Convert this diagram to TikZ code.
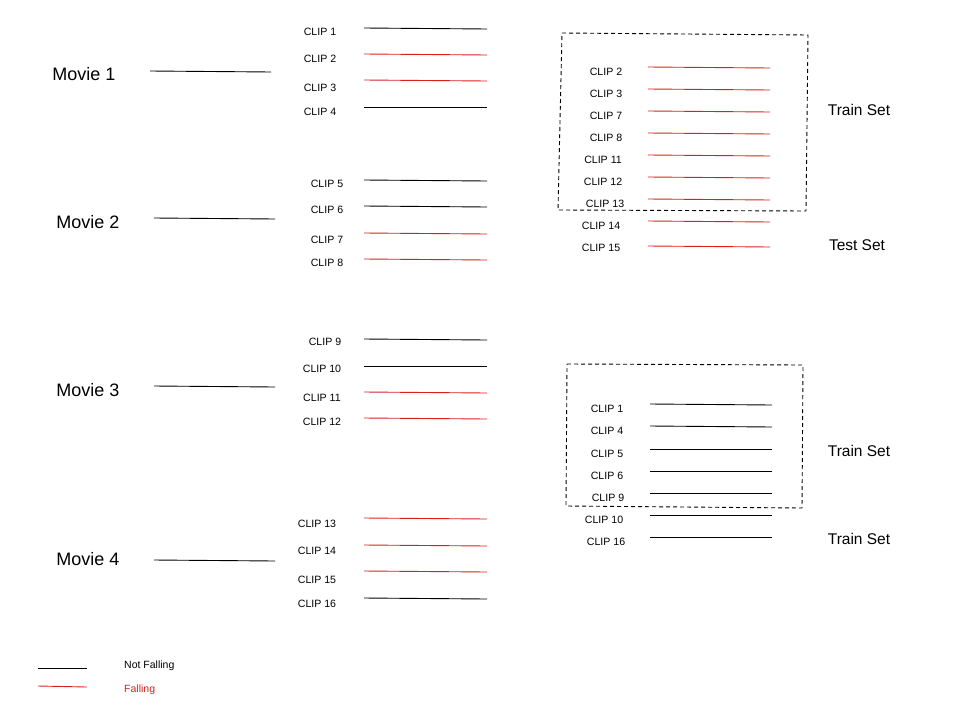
\documentclass[tikz,border=0pt]{standalone}
\usepackage{fontspec}
\setmainfont{Liberation Sans}
\definecolor{fallred}{RGB}{220,30,30}
\begin{document}
\begin{tikzpicture}[x=1pt,y=-1pt,
 cliptext/.style={font=\fontsize{10.6}{12}\selectfont, inner sep=0pt},
 movietext/.style={font=\fontsize{18}{20}\selectfont, inner sep=0pt},
 settext/.style={font=\fontsize{15.5}{18}\selectfont, inner sep=0pt},
 legtext/.style={font=\fontsize{10.5}{12}\selectfont, inner sep=0pt, anchor=west},
 nf/.style={draw=black, line width=0.9pt},
 fl/.style={draw=fallred, line width=0.9pt},
 splitbox/.style={draw=black, line width=0.9pt, dash pattern=on 4pt off 3pt}]
\useasboundingbox (0,0) rectangle (960,720);

% movies
\foreach \n/\tx/\ty/\ya/\yb in {1/84/74/71/72, 2/88/222/218/219, 3/88/390/386/387, 4/88/559/560/561}{
  \node[movietext] (m\n) at (\tx,\ty) {Movie \n};
  \coordinate (m\n a) at (\tx+66,\ya);
  \coordinate (m\n b) at (\tx+187,\yb);
  \draw[nf] (m\n a) -- (m\n b);
}

% clips column
\foreach \n/\tx/\ty/\ya/\yb/\s in {
  1/320/31/28/29/nf, 2/320/58/54/55/fl, 3/320/87/80/81/fl, 4/320/111/107/107/nf,
  5/327/183/180/181/nf, 6/327/209/206/207/nf, 7/327/239/233/234/fl, 8/327/262/259/260/fl,
  9/325/341/339/340/nf, 10/322/368/366/366/nf, 11/322/397/392/393/fl, 12/322/421/418/419/fl,
  13/317/523/518/519/fl, 14/317/550/545/546/fl, 15/317/579/571/572/fl, 16/317/603/598/599/nf}{
  \node[cliptext] (c\n) at (\tx,\ty+0.8) {CLIP \n};
  \coordinate (c\n a) at (364,\ya);
  \coordinate (c\n b) at (487,\yb);
  \draw[\s] (c\n a) -- (c\n b);
}

% top right split
\foreach \n/\tx/\ty/\ya/\yb in {
  2/606/71/67/68, 3/606/93/89/90, 7/606/115/111/112, 8/606/137/133/134,
  11/603/159/155/156, 12/603/181/177/178, 13/605/203/199/200, 14/601/225/221/222, 15/601/247/246/247}{
  \node[cliptext] (r\n) at (\tx,\ty+0.8) {CLIP \n};
  \coordinate (r\n a) at (648,\ya);
  \coordinate (r\n b) at (770,\yb);
  \draw[fl] (r\n a) -- (r\n b);
}
\coordinate (ta) at (562,33);
\coordinate (tb) at (808,35);
\coordinate (tc) at (806,211);
\coordinate (td) at (558,210);
\draw[splitbox] (ta) -- (tb) -- (tc) -- (td) -- cycle;
\node[settext] (train1) at (859,110) {Train Set};
\node[settext] (test1) at (857,245) {Test Set};

% bottom right split
\foreach \n/\tx/\ty/\ya/\yb in {
  1/607/408/404/405, 4/607/430/426/427, 5/607/453/449/449, 6/607/475/471/471,
  9/608/497/493/493, 10/604/519/515/515, 16/606/541/537/537}{
  \node[cliptext] (b\n) at (\tx,\ty+0.8) {CLIP \n};
  \coordinate (b\n a) at (650,\ya);
  \coordinate (b\n b) at (772,\yb);
  \draw[nf] (b\n a) -- (b\n b);
}
\coordinate (ba) at (567,364);
\coordinate (bb) at (803,365);
\coordinate (bc) at (802,508);
\coordinate (bd) at (566,506);
\draw[splitbox] (ba) -- (bb) -- (bc) -- (bd) -- cycle;
\node[settext] (train2) at (859,451) {Train Set};
\node[settext] (train3) at (859,539) {Train Set};

% legend
\coordinate (la) at (38,668);
\coordinate (lb) at (87,668);
\coordinate (lc) at (38,686);
\coordinate (ld) at (87,687);
\draw[nf] (la) -- (lb);
\draw[fl] (lc) -- (ld);
\node[legtext] (lnf) at (124,666) {Not Falling};
\node[legtext, text=fallred] (lfl) at (124,690) {Falling};
\end{tikzpicture}
\end{document}
